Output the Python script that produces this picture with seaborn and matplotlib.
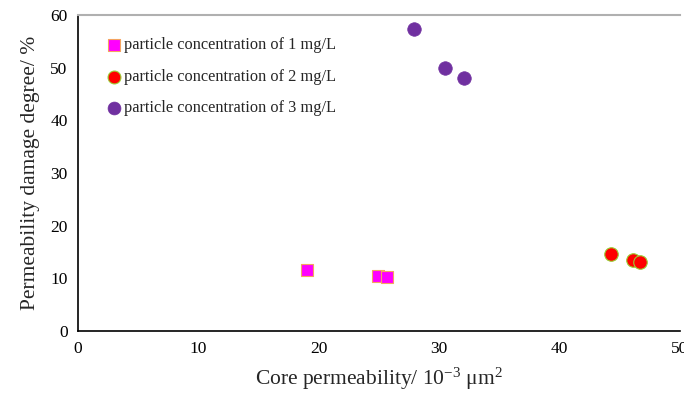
import matplotlib
matplotlib.use("Agg")
import matplotlib.pyplot as plt
import seaborn as sns
import pandas as pd

series_names = ["particle concentration of 1 mg/L",
                "particle concentration of 2 mg/L",
                "particle concentration of 3 mg/L"]
perm_1 = [19.0, 24.9, 25.7]
damage_1 = [11.5, 10.5, 10.3]
perm_2 = [44.3, 46.1, 46.7]
damage_2 = [14.7, 13.5, 13.0]
perm_3 = [27.9, 30.5, 32.1]
damage_3 = [57.3, 50.0, 48.1]

rows = []
for name, xs, ys in zip(series_names, [perm_1, perm_2, perm_3], [damage_1, damage_2, damage_3]):
    for x, y in zip(xs, ys):
        rows.append({"perm": x, "damage": y, "series": name})
df = pd.DataFrame(rows)

sns.set_style("white")
plt.rcParams['font.family'] = ['Liberation Serif', 'DejaVu Serif']
plt.rcParams['mathtext.fontset'] = 'custom'
plt.rcParams['mathtext.rm'] = 'Liberation Serif'
plt.rcParams['mathtext.it'] = 'Liberation Serif'

fig = plt.figure(figsize=(6.84, 3.94), dpi=100)
ax = fig.add_axes([0.114, 0.160, 0.880, 0.802])

styles = [
    dict(marker="s", s=70, color="#ff00ff", edgecolor="#f4a460", linewidth=0.8),
    dict(marker="o", s=95, color="#ff0000", edgecolor="#9acd32", linewidth=0.8),
    dict(marker="o", s=95, color="#7030a0", edgecolor="#7030a0", linewidth=0.5),
]
for name, st in zip(series_names, styles):
    sub = df[df["series"] == name]
    sns.scatterplot(data=sub, x="perm", y="damage", ax=ax, label=name, zorder=3, **st)

ax.set_xlim(0, 50)
ax.set_ylim(0, 60)
ax.set_xticks([0, 10, 20, 30, 40, 50])
ax.set_yticks([0, 10, 20, 30, 40, 50, 60])
ax.tick_params(axis="both", direction="out", length=4, width=1, labelsize=12.5, colors="black")
ax.set_xlabel(r"Core permeability/ 10$^{\mathrm{-3}}$ $\mathrm{\mu m^{2}}$", fontsize=15.5)
ax.set_ylabel("Permeability damage degree/ %", fontsize=15.5)
ax.xaxis.labelpad = 6
ax.yaxis.labelpad = 7
for side in ["left", "bottom"]:
    ax.spines[side].set_color("black")
    ax.spines[side].set_linewidth(1.2)
ax.spines["top"].set_color("#b0b0b0")
ax.spines["top"].set_linewidth(1.5)
ax.spines["right"].set_visible(False)

leg = ax.legend(loc="upper left", bbox_to_anchor=(0.035, 0.95), frameon=False,
                fontsize=11.8, handletextpad=0.1, labelspacing=0.95, borderaxespad=0,
                handlelength=1.0, markerscale=0.95)

fig.savefig("out.png", dpi=100)
